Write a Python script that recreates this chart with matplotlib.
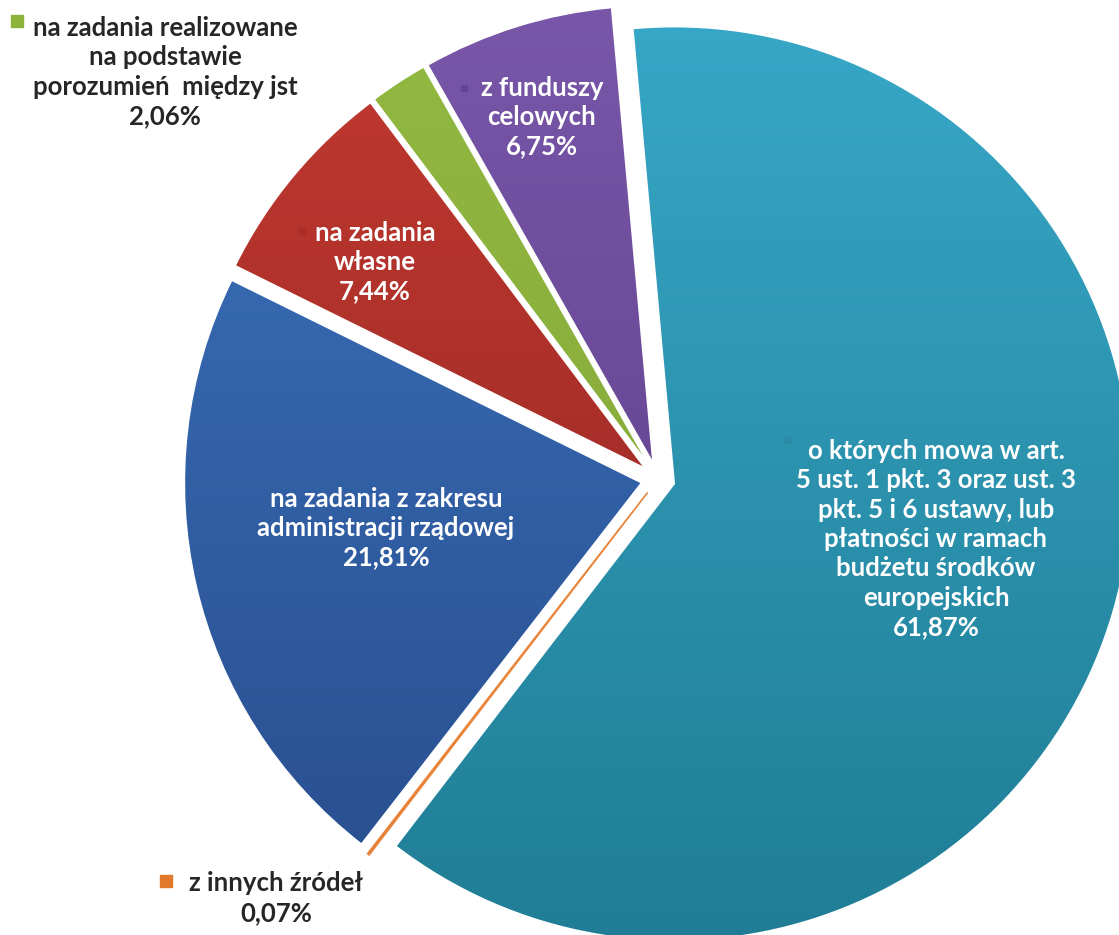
import numpy as np
import matplotlib.pyplot as plt
from matplotlib.colors import to_rgb

# dane: udzial procentowy dotacji wg zrodla (kolejnosc zgodnie z ruchem wskazowek zegara)
labels = [
    "o których mowa w art.\n5 ust. 1 pkt. 3 oraz ust. 3\npkt. 5 i 6 ustawy, lub\npłatności w ramach\nbudżetu środków\neuropejskich",
    "z innych źródeł",
    "na zadania z zakresu\nadministracji rządowej",
    "na zadania\nwłasne",
    "na zadania realizowane\nna podstawie\nporozumień  między jst",
    "z funduszy\ncelowych",
]
values = [61.87, 0.07, 21.81, 7.44, 2.06, 6.75]
pct_labels = ["61,87%", "0,07%", "21,81%", "7,44%", "2,06%", "6,75%"]

# kolory (gora -> dol, lekki gradient jak w Excelu)
colors_top = ["#38a9c9", "#e8853a", "#3c74c0", "#c33a31", "#93ba42", "#7a57aa"]
colors_bot = ["#1f7b93", "#d06a1e", "#274b8a", "#8a2320", "#7ea034", "#553a82"]

W, H = 1119, 935
fig = plt.figure(figsize=(W / 100, H / 100), dpi=100)
ax = fig.add_axes([0, 0, 1, 1])

center = (658, H - 479)
radius = 457

# explode w matplotlib jest przesunieciem w jednostkach danych (tu: piksele)
wedges, _ = ax.pie(
    values,
    colors=colors_top,
    startangle=95.2,
    counterclock=False,
    explode=[17] * len(values),
    radius=radius,
    center=center,
    wedgeprops=dict(edgecolor="white", linewidth=1.0),
)

# gradient w kazdym wycinku
for w, ct, cb in zip(wedges, colors_top, colors_bot):
    top = np.array(to_rgb(ct))
    bot = np.array(to_rgb(cb))
    t = np.linspace(0, 1, 256)[:, None]
    grad = (top * (1 - t) + bot * t)[:, None, :]
    y0, y1 = center[1] - radius * 1.1, center[1] + radius * 1.1
    x0, x1 = center[0] - radius * 1.1, center[0] + radius * 1.1
    im = ax.imshow(grad, extent=(x0, x1, y0, y1), origin="upper",
                   aspect="auto", zorder=0.5, interpolation="bilinear")
    im.set_clip_path(w)
    w.set_facecolor("none")
    w.set_zorder(1)
wedges[1].set_edgecolor(colors_top[1])
wedges[1].set_linewidth(1.2)

font = ["Lato", "DejaVu Sans"]
fs = 18.5

# etykiety: (x, y) srodka bloku tekstu w pikselach, kolor tekstu, polozenie znacznika
label_pos = [(936, 539), (276, 898), (386, 528), (375, 262), (165, 72), (542, 117)]
text_col = ["white", "#262626", "white", "white", "#262626", "white"]
marker_pos = [(787, 440), (166, 881), (237, 495), (302, 231), (17, 21), (464, 88)]
marker_col = ["#2a8aa6", "#e07a2a", "#335fa6", "#a82c28", "#8db33a", "#5f4490"]
marker_shape = ["_", "s", "_", "_", "s", "_"]

for i in range(len(values)):
    x, y = label_pos[i]
    ax.text(x, H - y, labels[i] + "\n" + pct_labels[i], ha="center", va="center",
            color=text_col[i], fontsize=fs, fontweight="bold", family=font,
            linespacing=1.27, zorder=5)
    mx, my = marker_pos[i]
    if marker_shape[i] == "s":
        ax.plot(mx, H - my, marker="s", markersize=8, color=marker_col[i], zorder=5)
    else:
        ax.plot(mx, H - my, marker="s", markersize=5, color=marker_col[i],
                zorder=5, alpha=0.8)

ax.set_xlim(0, W)
ax.set_ylim(0, H)
ax.set_aspect("equal")
ax.axis("off")

fig.savefig("out.png", dpi=100, facecolor="white")
